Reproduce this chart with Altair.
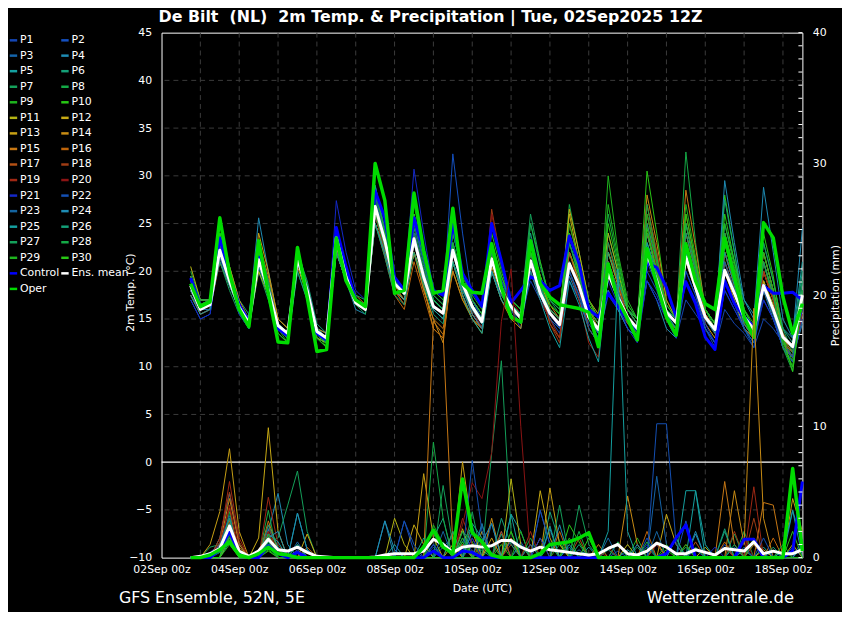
import altair as alt
import pandas as pd

# ---------------- data ----------------
HOURS = list(range(18, 397, 6))  # 6-hourly steps, hours after 02Sep 00z (02Sep 18z ... 18Sep 12z)
MEMBERS = [f"P{i}" for i in range(1, 31)]
SERIES = MEMBERS + ["Control", "Ens. mean", "Oper"]
COLORS = ["#1446b4", "#1450c0", "#1464aa", "#1e8cb4", "#14a0a0", "#14a078", "#14a05a", "#14aa46", "#1eb41e", "#28c814",
          "#b4b414", "#c8aa14", "#c8a014", "#c88c14", "#c87814", "#be640a", "#b45014", "#a03c14", "#a02814", "#8c1414",
          "#1428c8", "#1450b4", "#1464a0", "#1e8cb4", "#14a0a0", "#14a078", "#14a05a", "#14aa46", "#1eb41e", "#28c814",
          "#0000ff", "#ffffff", "#00dc00"]

TEMP = {
    "P1": [17.5, 15.5,16,21.5,18.5, 16,14.5,20.5,17.5, 14.5,13.5,21,18, 14,13.5,24,20, 17,16.5,27,23, 19,18,24,20, 17,16,23,19, 16,14,20,17.5, 16,15,19,17, 15,13.5,19,17, 14.5,13,17.5,16, 14.5,13.5,19,17.5, 15,13,17,15.5, 14,12,16,14.5, 13.5,12,15,14, 12.5,11.5,16],
    "P2": [18, 16,16.5,22,19, 16.5,15,21.5,18, 14,13,21,18, 13.5,12.5,23,19.5, 16.5,16,26,22.5, 18.5,17.5,25,21, 17.5,16.5,32.3,24, 17,15,22,18.5, 16,14,20,17, 15,14,21,18, 15,13,18,16, 14,13,20,18, 15,13,19,17, 14,12.5,18,16, 14,13,17,15, 12,11,15],
    "P3": [17, 15,15.5,23,19.5, 16,14,22,18.5, 14,13,22,18.5, 13,12.5,24,20, 17,16,29,24.5, 19,18,26,21, 16,15,22,18, 15.5,14,21,18, 16,14.5,21,17.5, 15,14,21,18.5, 15.5,14,22,19, 16,15,24,20, 16,15,23,19, 15,14,21,18, 14.5,13,19,16, 12,11,16],
    "P4": [17.5, 16,16,22.5,19.5, 16,15,25.6,20, 15,14,21.5,18.5, 14,13,22.5,19, 16,15.5,26,22, 18,17,22,19, 16,15,21,18, 16,14.5,20,17, 15.5,14.5,20,17.5, 15,14,19.5,17, 14,12.5,18,16, 14,13,19,17, 14,13,21,18, 14,12.5,19,17, 14,12.5,18,15, 12,11,14.5],
    "P5": [18, 16.5,17,21,18.5, 16.5,15,22,18.5, 15,14,21,18, 14,13.5,22,19, 17,16.5,25,22, 19,18,23,19.5, 17,16,23,19, 17,15.5,22,19, 17,16,22,18, 16,15,22,19, 15,14,21,18, 16,15,23,20, 16,15,22,19, 15,14,25,21, 17,15.5,22,18, 14,13,21],
    "P6": [19, 17,17,24,20.5, 17,15.5,22,19, 15,14,22,19, 14.5,13.5,23,19.5, 17,16,27,23.5, 19.5,18,23,19.5, 16.5,15.5,21,18, 16,14.5,21,18, 16.5,15.5,24,19.5, 17,16,23,20, 16,14.5,24,20, 16,15,26,21, 16.5,15,25,20, 16,14.5,23,19, 15,13.5,20,17, 13.5,12,19],
    "P7": [19.5, 16.5,16.5,21,18, 15.5,14,20,17, 13.5,12.5,20,17, 13,12.5,22,19, 16.5,15.5,25,22, 18,17,22,18.5, 16,15,22,18.5, 16,14.5,22,18.5, 17,16,26,21, 17,15.5,22,19, 15.5,14,21,18, 15,14,23,19.5, 15,14,22,19, 15.5,14,22,19, 15,13,19,16, 12,10.5,17],
    "P8": [20, 17,17,22,19, 16.5,15,21,18, 14.5,13.5,21.5,18, 13.5,12.5,23.5,19.5, 17,16,27.5,23.5, 19,17.5,24,20, 17,16,22,19, 16.5,15,21,18, 16,15,21,18, 16,15,27,22, 17,15,21,18, 15,14,22,19, 16,14.5,32.5,23, 16,14,24,19.5, 15,13,21,17, 13,11,18],
    "P9": [19, 16.5,17,25.5,20.5, 16.5,14.5,22,18.5, 14,13,22,18, 13,12,23,19.5, 16.5,16,28,24, 19,18,26,21, 17,16,23,19.5, 17,15,22,18.5, 16,15,22,18.5, 16,15,21,18.5, 15,14,30,22, 17,15,25,20.5, 16,14.5,23,19.5, 15,14,24,20, 15,13,21,17, 12,10,17],
    "P10": [18.5, 16,16.5,23,19.5, 16,14,21,18, 13.5,12.5,21.5,18, 13.5,12.5,23,19.5, 16.5,16,27,23, 18.5,17.5,24,20, 17,16,22,19, 17,15.5,24,20, 17,16,25,21, 17,16,22,19.5, 16,14.5,22,19, 16,14.5,30.5,24, 17,15,24,20, 16,14.5,28,22, 16,14,22,18, 13,10.5,18],
    "P11": [20.5, 17,17,21.5,19, 16,14.5,20,17.5, 14,13,20.5,17.5, 13,12.5,22,19, 16.5,16,25,22, 18,17,22,19, 16,15,20,17, 15,13.5,21,18, 16,15,23,19.5, 16,15,26,21, 17,15.5,24,20, 16,14.5,22,19, 15,14,23,19.5, 15.5,14,20,17.5, 15,14,19,16.5, 13,12,17],
    "P12": [19.5, 16,16.5,22,19, 16,14.5,22.5,19, 15,14,21,18, 14,13,22.5,19.5, 16.5,16,26,22.5, 18,17,23,19.5, 16,15,22,18.5, 15.5,14,20.5,17.5, 16,15,22,19, 16,15,26.5,22, 17,15,21,18, 15,14,24,20, 16,14.5,23,19, 15,13.5,22,18.5, 14.5,13,18,15.5, 12.5,11,16],
    "P13": [18, 16,16,23,20, 16.5,15,24,20, 15,14,21,18, 13.5,12.5,23,19.5, 17,16,26,22, 18,17,22,18.5, 14,13,21,17.5, 15,14,20,17, 15,14,21,18, 15.5,14.5,24,20, 16,14,22,18.5, 15,14,24,20, 15,14,21,18, 14.5,13,20,17, 14,13,19,16, 12,11,16],
    "P14": [18.5, 16,16.5,23,20.5, 17,15,23,19.5, 15,14,21,18, 14,13.5,24,20, 17.5,16.5,25,22, 18.5,17,22,18, 15,12.5,21,17.5, 15,14,22,18.5, 16,15,22,19, 16.5,15,22,19, 15,14,22,19, 15,14,28,23, 17,15,25,20.5, 15.5,14,21,18, 15,13.5,20,17, 13,11.5,17],
    "P15": [17.5, 15.5,16,22.5,19.5, 16.5,14.5,21.5,18.5, 14.5,13.5,22,18.5, 13.5,13,24,20.5, 17,16,26,22.5, 18,16.5,22,18, 15,14,20,17, 15.5,14,22,18.5, 16,15,23,19.5, 16,15,25,21, 16,14.5,21,18, 15,14,26,21.5, 16,14.5,28.5,22.5, 16,14.5,24,20, 15,13.5,22,18, 13.5,12,18],
    "P16": [19, 16.5,16.5,22,19.5, 16.5,15,22,19, 14.5,13.5,21,18, 13.5,13,22,19, 16.5,16,25,21.5, 17.5,16,21,17.5, 14,13,21,17.5, 15,14,21.5,18, 15.5,14.5,21,18, 15.5,14.5,21,18.5, 15,13.5,23,19, 16,14.5,27,22, 16,14.5,26,21, 15.5,14,23,19, 15,13.5,20,17, 12.5,11,15],
    "P17": [18, 16,16,21,18.5, 16,14.5,21,18, 14,13,22,18.5, 14,13,22,19, 16.5,16,26,22, 18,16.5,23,19, 16,15,22,18.5, 15.5,14,21,18, 15.5,14.5,22,18.5, 14.5,13,22,18.5, 14,12.5,20,17, 14.5,13.5,24,20, 15,13.5,24,20, 15,13.5,22,18.5, 14.5,13,20,17, 12.5,11.5,16.5],
    "P18": [18.5, 16,16.5,22,19, 16,14.5,21,18, 14,13,21.5,18, 13.5,13,23,19, 16.5,16,26,22, 18.5,17.5,24,20, 16.5,15.5,22,18.5, 16,14.5,26.5,21, 16,15,21,18, 14.5,12.5,21,18, 14,12.5,23,19, 15,14,27,22, 16,14.5,24,20, 15,13.5,22,18.5, 14.5,13,21,17.5, 13,12,17],
    "P19": [17.5, 15.5,16,22,19, 16,14.5,22,18.5, 14.5,13.5,21,18, 13.5,13,23,19.5, 17,16.5,27,23, 18.5,17.5,23,19.5, 16.5,15.5,22,18.5, 16,14.5,22,18.5, 16,15,22,18.5, 15,13,20,17, 12.5,11,21,18, 15,13.5,25,20.5, 15.5,13.5,22,18.5, 15,13.5,21,18, 14.5,13,20,17, 12.5,11,15.5],
    "P20": [18, 16,16.5,22.5,19.5, 16.5,15,21.5,18.5, 14.5,13.5,21,18, 14,13,23,19.5, 17,16,26,22.5, 18.5,17.5,23.5,19.5, 16.5,15.5,22,18.5, 16,14,26,21, 17,15.5,20,17, 15,14,21,18, 15,13.5,21,18, 15,14,26,21, 16,14.5,23,19, 15,13.5,22,18.5, 14.5,13,21,17.5, 13,12,16],
    "P21": [17, 15,15.5,22,19, 15.5,14,21,18, 14,13,21,18, 13.5,12.5,27.4,22, 18,17,28,24, 19.5,18,30.7,24, 18,17,24,20, 17,15,23,19, 17,16,21,18, 15.5,14,20,17.5, 15,13.5,19,16.5, 14,12.5,19,17, 15,13,20,17.5, 14.5,12.5,18,16, 14,12.5,17,15, 12,11,16],
    "P22": [18.5, 16,16,21.5,18.5, 16,14.5,21,18, 14,13,21,18, 13.5,13,24,20, 17,16.5,27,23, 19,17.5,25,21, 17,16,24,20, 17,15.5,22,19, 16.5,15.5,21,18.5, 16,15,20,17.5, 15,13.5,20,17.5, 15,13.5,21,18.5, 15,13.5,20,17.5, 14,12.5,19,16.5, 14,12,18,15.5, 12,10.5,15],
    "P23": [18, 16,16,22,19, 16,14.5,23,19, 14.5,13.5,21.5,18, 13.5,12.5,23,19.5, 17,16,28,23.5, 19,18,24,20, 16.5,15.5,21,18, 16,14.5,20,17.5, 16,15,22,18.5, 15,14,20,17.5, 14,12.5,21,18, 15,14,22,19, 15.5,14,23,19.5, 15,13.5,21,18, 14,12.5,18,15.5, 12.5,11,17],
    "P24": [18, 16,16.5,22,19, 16,14.5,22,18.5, 14.5,13.5,21,18, 14,13,22,19, 16.5,16,25,22, 18,17,23,19.5, 16,15,22,18.5, 15.5,14,21,18, 16,15,21,18, 15.5,14.5,21,18.5, 15,13.5,20,17.5, 15,14,22,19, 16,14.5,22,19, 15,14,29.5,23, 17,15,28.8,22, 15,13,24.5],
    "P25": [17.5, 15.5,16,23,19.5, 16,14.5,22,18.5, 14.5,13.5,21.5,18, 14,13,23,19.5, 17,16.5,29,24, 19,17.5,23,19, 16,15,21,17.5, 15,13.5,20,17, 15.5,14.5,20,17, 14,12,19,16.5, 13,10.5,20,17, 15,14,23,19.5, 15.5,14,22,18.5, 15,13.5,22,18.5, 14.5,13,21,17.5, 13,12,18],
    "P26": [18.5, 16.5,16.5,21,18.5, 16,14.5,20.5,17.5, 14,13,20,17, 13.5,12.5,22,19, 16.5,16,25,21.5, 17.5,16.5,22,18.5, 15.5,14.5,21,18, 16,14.5,23,19.5, 16.5,15.5,22,18.5, 15.5,14.5,23,19.5, 15.5,14,22,19, 16,14.5,25,21, 16,15,24,20, 16,14.5,27.5,22, 16,14,23,19, 14,12.5,20],
    "P27": [19.5, 17,17,22.5,19.5, 16.5,15,22,18.5, 14.5,13.5,22,18.5, 14,13,23.5,20, 17.5,17,27,23, 19,18,24.5,20.5, 17,16,22.5,19, 16.5,15,21,18, 16.5,15.5,25,20.5, 17,16,24,20, 16.5,15,23,19.5, 16,14.5,24,20, 16,14.5,25,20.5, 16,14.5,24,20, 15.5,14,23,19, 14,11.5,19],
    "P28": [19, 16.5,16.5,23,19.5, 16,14.5,22.5,19, 14,13,22,18.5, 13.5,12.5,23,19.5, 16.5,16,26,22.5, 18.5,17.5,23.5,19.5, 17,16,23,19, 16.5,15,22,18.5, 16.5,15.5,22,18.5, 16,15,23,19.5, 16,14.5,26,21, 16.5,15,27,21.5, 16,14.5,25,20.5, 16,14.5,23,19, 15,13.5,21,17.5, 12,9.5,18],
    "P29": [19, 16.5,17,24,20, 16.5,15,21.5,18, 14,12.5,21.5,18, 13,12,23.5,20, 17,16.5,28.5,24, 19.5,18,27,22, 18,17,24,20, 17.5,16,25,20.5, 17,16,23,19.5, 16.5,15.5,25,21, 17,15,27,21.5, 16.5,15,26,21, 16,14.5,27,21.5, 16,14.5,25,20.5, 16,14.5,22,18, 12.5,10,17],
    "P30": [18.5, 16,16.5,24,20, 16.5,14.5,22,18.5, 14,13,22.5,18.5, 13.5,12,24,20, 17,16.5,27,23, 19,18,26,21.5, 17.5,16.5,24,20, 17,15.5,23,19.5, 17,16,22,19, 16.5,15.5,24,20, 16.5,15,25,20.5, 16,15,24.5,20, 16.5,15,26,21, 16,14.5,26,21, 16,14,24,19.5, 13,9.5,17],
    "Control": [19.3, 16.3,16.5,23.5,19.5, 16.5,14.8,21.5,18, 14,13.2,21.5,18, 13.5,12.8,24.6,20.5, 17,16.3,28.4,25.6, 19.4,18,25.6,22.2, 18,17.5,25,19.8, 18,16.3,25,21.1, 16.7,18,19.4,19, 18,18.5,23.7,20.8, 16,15.2,17.7,16.3, 15,13.9,20.9,20.4, 18.3,15.2,18.9,16.6, 13.1,11.8,19,16.6, 15.2,14.2,18.5,17.7, 17.7,17.8,17],
    "Ens. mean": [18.5, 16,16.5,22.2,19, 16.2,14.6,21.2,18, 14.3,13.5,21.3,18, 13.7,13,23.5,19.4, 16.7,16,26.8,23.2, 18.7,17.7,23.4,19.4, 16.3,15.6,22.2,18.7, 16.3,14.7,21.3,18, 16.3,15.1,21.1,17.7, 15.6,14.4,20.8,18.5, 15.2,13.9,19.8,17.3, 15.2,14,21.8,19, 15.7,14.6,21.5,18.3, 15.2,13.9,20.1,17.7, 15.2,13.9,18.5,16, 13.1,12.1,17.5],
    "Oper": [18.7, 16.3,16.8,25.6,19.8, 16,14.2,23.2,17.7, 12.6,12.5,22.5,17.3, 11.6,11.8,23.5,19, 17,16.3,31.3,27.4, 17.7,18,28.2,22.2, 17.7,18,26.6,18.7, 17.8,17.7,22.9,18.3, 15.2,14.7,23.2,18.7, 17.3,16.5,16.3,16.1, 15.7,12.1,20.8,17, 15,12.8,22.4,18.7, 15.2,13.3,22.9,19, 16.6,16,23.5,19.4, 15.2,13.1,25.1,23.5, 17.3,13.5,16.6],
}

# 6-hourly precipitation (mm); steps not listed are dry (0 mm)
PRECIP_WET_STEPS = {
    "P1": {3: 0.5, 4: 1.8, 5: 0.3, 8: 1.0, 9: 0.4, 11: 0.6, 25: 0.8, 28: 1.5, 29: 0.5, 32: 2.0, 36: 3.6, 37: 1.0, 44: 0.5, 48: 1.0, 52: 0.6, 58: 1.2, 62: 0.8},
    "P2": {2: 0.4, 3: 1.0, 4: 3.0, 5: 0.5, 8: 2.2, 9: 0.8, 12: 0.5, 22: 2.8, 23: 0.5, 29: 2.0, 30: 1.0, 34: 1.2, 39: 0.8, 47: 1.5, 51: 2.8, 55: 1.0, 63: 1.4},
    "P3": {3: 0.8, 4: 2.4, 8: 1.2, 11: 1.0, 26: 0.8, 27: 1.6, 31: 2.6, 33: 1.3, 40: 0.6, 48: 6.2, 49: 1.0, 56: 0.8, 60: 0.5},
    "P4": {3: 1.5, 4: 4.9, 5: 1.0, 8: 2.0, 9: 4.9, 10: 1.0, 12: 0.6, 20: 2.8, 25: 1.0, 30: 2.6, 33: 1.5, 37: 2.2, 44: 1.2, 52: 1.8, 57: 0.6, 62: 3.6},
    "P5": {4: 1.2, 8: 0.8, 11: 3.4, 12: 0.6, 21: 1.0, 28: 1.2, 29: 2.4, 33: 3.3, 34: 2.0, 41: 0.8, 45: 0.6, 52: 5.1, 53: 1.0, 59: 0.8},
    "P6": {3: 0.6, 4: 2.0, 7: 0.4, 8: 1.5, 25: 1.5, 26: 3.0, 30: 0.6, 32: 1.8, 37: 3.5, 38: 1.2, 43: 0.6, 50: 1.5, 55: 2.0, 63: 0.8},
    "P7": {2: 0.8, 3: 1.0, 4: 2.5, 8: 1.2, 9: 1.5, 10: 4.0, 11: 6.6, 12: 2.0, 26: 5.5, 27: 1.0, 31: 8.0, 32: 15.0, 33: 2.0, 40: 4.0, 41: 1.0, 47: 0.8, 56: 1.8},
    "P8": {4: 3.5, 8: 3.6, 25: 8.8, 26: 3.0, 29: 1.0, 35: 1.5, 44: 1.2, 51: 0.8, 57: 2.0},
    "P9": {3: 0.4, 4: 1.6, 8: 0.6, 24: 1.0, 28: 2.0, 29: 1.2, 34: 2.0, 38: 1.0, 46: 1.5, 55: 0.8, 61: 0.6},
    "P10": {4: 1.0, 8: 0.5, 28: 1.5, 32: 1.0, 39: 2.5, 40: 1.2, 49: 0.6, 58: 1.0},
    "P11": {4: 1.5, 7: 0.6, 8: 1.8, 21: 3.0, 22: 1.0, 28: 2.2, 33: 6.0, 34: 1.0, 36: 1.5, 45: 1.0, 53: 0.8, 62: 1.0},
    "P12": {3: 0.8, 4: 2.2, 7: 1.5, 8: 9.9, 9: 2.0, 12: 1.8, 23: 2.5, 24: 1.0, 27: 1.0, 30: 2.0, 36: 5.1, 37: 1.5, 49: 3.3, 50: 1.0, 59: 0.6},
    "P13": {2: 1.0, 3: 3.5, 4: 8.3, 5: 2.0, 8: 1.4, 24: 6.4, 25: 1.5, 28: 7.3, 29: 2.0, 31: 1.5, 37: 5.3, 38: 1.0, 48: 1.2, 62: 4.5, 63: 2.0},
    "P14": {3: 1.0, 4: 4.5, 5: 1.0, 8: 1.6, 28: 1.0, 31: 3.0, 35: 1.0, 45: 4.7, 46: 1.0, 56: 5.1, 57: 1.0, 58: 19.0, 59: 3.0},
    "P15": {3: 0.8, 4: 3.0, 8: 2.8, 9: 0.6, 25: 18.0, 26: 17.0, 27: 1.0, 33: 1.5, 42: 1.0, 55: 5.8, 56: 1.0, 59: 4.2, 60: 4.0},
    "P16": {4: 2.8, 5: 0.8, 8: 2.0, 12: 0.8, 27: 2.0, 30: 1.2, 38: 2.0, 47: 2.0, 55: 1.2, 60: 1.5},
    "P17": {3: 1.0, 4: 3.8, 8: 1.5, 11: 0.5, 28: 1.0, 32: 2.0, 40: 1.5, 52: 1.2, 58: 1.0},
    "P18": {3: 1.5, 4: 5.0, 5: 1.2, 8: 2.5, 29: 1.5, 33: 1.0, 43: 0.8, 56: 2.0, 58: 3.0},
    "P19": {3: 1.2, 4: 5.8, 5: 1.5, 8: 4.6, 9: 1.0, 28: 3.0, 29: 1.0, 35: 2.0, 48: 1.0, 55: 0.8, 58: 5.4},
    "P20": {3: 0.8, 4: 4.0, 5: 0.6, 8: 2.0, 28: 2.5, 29: 5.7, 30: 4.5, 31: 8.0, 32: 18.0, 33: 22.0, 34: 10.0, 42: 0.5, 51: 1.0, 57: 1.5},
    "P21": {3: 0.6, 4: 2.5, 8: 1.0, 25: 1.0, 29: 1.5, 36: 1.5, 47: 1.0, 54: 0.8},
    "P22": {4: 2.0, 8: 1.0, 22: 2.8, 23: 1.0, 29: 7.4, 30: 2.0, 36: 3.6, 37: 1.0, 48: 10.2, 49: 10.2, 50: 1.0, 59: 1.5},
    "P23": {3: 1.0, 4: 3.2, 8: 1.4, 11: 1.2, 26: 2.0, 30: 2.5, 35: 1.0, 43: 1.5, 48: 2.0, 57: 0.8},
    "P24": {3: 0.5, 4: 2.2, 8: 1.5, 9: 2.0, 11: 3.4, 12: 0.6, 20: 2.8, 21: 0.6, 29: 2.0, 30: 1.2, 31: 2.6, 38: 2.5, 46: 1.0, 52: 2.0, 63: 1.0},
    "P25": {4: 2.6, 8: 1.8, 9: 1.2, 29: 2.6, 30: 1.5, 33: 3.3, 37: 2.4, 39: 1.0, 43: 2.0, 44: 22.0, 45: 2.0, 51: 5.1, 52: 5.1, 61: 0.5, 62: 3.6, 63: 1.0},
    "P26": {3: 0.8, 4: 3.0, 8: 2.5, 9: 0.8, 24: 1.5, 27: 2.0, 32: 3.0, 33: 1.0, 40: 1.0, 50: 1.5, 55: 2.2, 60: 0.8},
    "P27": {4: 1.8, 8: 1.2, 11: 1.0, 26: 1.2, 29: 3.5, 34: 1.0, 38: 4.0, 46: 0.8, 56: 1.0},
    "P28": {3: 0.4, 4: 1.5, 8: 1.8, 28: 2.0, 31: 1.0, 37: 1.0, 40: 2.0, 47: 1.2, 52: 0.8, 61: 1.0},
    "P29": {4: 2.0, 8: 1.0, 25: 2.5, 26: 1.0, 30: 1.0, 39: 1.5, 49: 1.0, 58: 1.5},
    "P30": {4: 2.2, 8: 0.8, 9: 0.6, 28: 1.2, 33: 2.0, 41: 1.5, 51: 1.0, 62: 2.0},
    "Control": {3: 0.6, 4: 2.0, 5: 0.3, 8: 0.9, 9: 0.3, 11: 0.4, 25: 0.5, 28: 0.5, 29: 0.4, 49: 0.3, 50: 1.5, 51: 2.5, 57: 1.4, 58: 1.4, 62: 0.5, 63: 5.8},
    "Oper": {2: 0.2, 3: 0.6, 4: 1.2, 5: 0.2, 7: 0.3, 8: 0.8, 9: 0.3, 10: 0.2, 24: 0.8, 25: 2.1, 26: 0.8, 27: 0.3, 28: 6.0, 29: 1.9, 30: 1.2, 31: 0.2, 36: 0.3, 37: 1.0, 38: 1.1, 39: 1.2, 40: 1.5, 41: 1.9, 62: 6.8, 63: 0.5},
}
MEAN_PRECIP = [0, 0.1,0.3,0.7,2.4, 0.5,0.1,0.5,1.4, 0.6,0.5,0.8,0.4, 0.1,0.05,0,0, 0,0,0.05,0.2, 0.3,0.3,0.3,0.5,
               1.4,1.0,0.4,0.8, 0.9,0.8,0.9,1.3, 1.3,0.8,0.5,0.8, 0.6,0.5,0.4,0.3, 0.2,0.3,0.7,1.0, 0.3,0.2,0.5,1.1,
               0.8,0.3,0.3,0.6, 0.4,0.2,0.7,0.6, 0.5,1.2,0.3,0.5, 0.3,0.3,0.6]

XLABELS = ["02Sep 00z", "04Sep 00z", "06Sep 00z", "08Sep 00z", "10Sep 00z",
           "12Sep 00z", "14Sep 00z", "16Sep 00z", "18Sep 00z"]
XLABEL_HOURS = [0, 48, 96, 144, 192, 240, 288, 336, 384]
DAY_GRID = [24, 48, 72, 96, 120, 144, 168, 192, 216, 240, 264, 288, 312, 336, 360, 384]
TEMP_TICKS = [-10, -5, 0, 5, 10, 15, 20, 25, 30, 35, 40, 45]
TEMP_GRID = [-5, 5, 10, 15, 20, 25, 30, 35, 40]
PRECIP_LABELS = [0, 10, 20, 30, 40]
PRECIP_MINOR = list(range(0, 41))

TITLE = "De Bilt\u00a0 (NL)\u00a0 2m Temp. & Precipitation | Tue, 02Sep2025 12Z"
FOOT_LEFT = "GFS Ensemble, 52N, 5E"
FOOT_RIGHT = "Wetterzentrale.de"

# ---------------- table ----------------
rows = []
for s in SERIES:
    if s == "Ens. mean":
        pr = MEAN_PRECIP
    else:
        wet = PRECIP_WET_STEPS[s]
        pr = [wet.get(i, 0.0) for i in range(len(HOURS))]
    t = TEMP[s]
    assert len(t) == len(HOURS), (s, len(t))
    for h, tv, pv in zip(HOURS, t, pr):
        rows.append({"h": h, "series": s, "temp": tv, "precip": pv})
df = pd.DataFrame(rows)

# ---------------- chart ----------------
W, H = 647, 530
FONT = "DejaVu Sans"
GRID_COLOR = "#3c3c3c"

xlab_js = "[" + ",".join(f"'{s}'" for s in XLABELS) + "]"
XAXIS = alt.Axis(values=XLABEL_HOURS, labelExpr=f"{xlab_js}[round(datum.value / 48)]",
                 grid=False, ticks=False, domain=False, labelFlush=False, labelOverlap=False,
                 labelPadding=6, title="Date (UTC)", titlePadding=8)
XSCALE = alt.Scale(domain=[0, 396], nice=False, zero=False)
TAXIS = alt.Axis(values=TEMP_TICKS, grid=False, ticks=False, domain=False, orient="left",
                 labelPadding=10, title="2m Temp. (°C)", titleX=-31, titleY=262, titleAngle=270,
                 titleBaseline="middle", titleAlign="center")
TSCALE = alt.Scale(domain=[-10, 45], nice=False, zero=False)
PAXIS = alt.Axis(values=PRECIP_LABELS, grid=False, ticks=False, domain=False, orient="right",
                 labelPadding=10, title="Precipitation (mm)", titleAngle=270, titleX=33, titleY=265,
                 titleBaseline="middle", titleAlign="center")
PSCALE = alt.Scale(domain=[0, 40], nice=False, zero=False)

LEGEND = alt.Legend(orient="none", legendX=-155, legendY=2, columns=2, direction="horizontal",
                    title=None, symbolLimit=0,
                    symbolType="stroke", symbolStrokeWidth=2.5, symbolSize=56,
                    labelColor="white", labelFont=FONT, labelFontSize=11,
                    rowPadding=3.7, columnPadding=-8, labelOffset=1, padding=0)
COLOR = alt.Color("series:N", scale=alt.Scale(domain=SERIES, range=COLORS), legend=LEGEND)

X = alt.X("h:Q", scale=XSCALE, axis=XAXIS)
base = alt.Chart(df)


def subset(names):
    return base.transform_filter(alt.FieldOneOfPredicate(field="series", oneOf=names))


YT = alt.Y("temp:Q", scale=TSCALE, axis=TAXIS)
YP = alt.Y("precip:Q", scale=PSCALE, axis=PAXIS)

hgrid = alt.Chart(pd.DataFrame({"temp": TEMP_GRID})).mark_rule(
    color=GRID_COLOR, strokeDash=[5, 4], strokeWidth=1).encode(y=YT)
vgrid = alt.Chart(pd.DataFrame({"h": DAY_GRID})).mark_rule(
    color=GRID_COLOR, strokeDash=[5, 4], strokeWidth=1).encode(x=X)
zero = alt.Chart(pd.DataFrame({"temp": [0]})).mark_rule(color="white", strokeWidth=1.2).encode(y=YT)


def lines(names, y, width):
    return subset(names).mark_line(strokeWidth=width, strokeJoin="round").encode(
        x=X, y=y, color=COLOR, detail="series:N")


temp_layer = alt.layer(
    hgrid, vgrid, zero,
    lines(MEMBERS, YT, 1),
    lines(["Control"], YT, 3),
    lines(["Ens. mean"], YT, 3),
    lines(["Oper"], YT, 3.5),
)

pticks = alt.Chart(pd.DataFrame({"precip": PRECIP_MINOR})).mark_rule(color="white", strokeWidth=1).encode(
    x=alt.value(W - 4), x2=alt.value(W), y=YP)

precip_layer = alt.layer(
    lines(MEMBERS, YP, 1),
    lines(["Control"], YP, 3),
    lines(["Ens. mean"], YP, 3),
    lines(["Oper"], YP, 3.5),
    pticks,
)

title_txt = alt.Chart(pd.DataFrame({"label": [TITLE]})).mark_text(
    align="left", baseline="middle", color="white", font=FONT, fontSize=16, fontWeight="bold").encode(
    x=alt.value(-3), y=alt.value(-16), text="label:N")
foot_l = alt.Chart(pd.DataFrame({"label": [FOOT_LEFT]})).mark_text(
    align="left", baseline="middle", color="white", font=FONT, fontSize=16).encode(
    x=alt.value(-43), y=alt.value(571), text="label:N")
foot_r = alt.Chart(pd.DataFrame({"label": [FOOT_RIGHT]})).mark_text(
    align="left", baseline="middle", color="white", font=FONT, fontSize=16.5).encode(
    x=alt.value(490), y=alt.value(571), text="label:N")

chart = alt.layer(temp_layer, precip_layer, title_txt, foot_l, foot_r).resolve_scale(
    y="independent"
).properties(
    width=W, height=H,
    padding={"left": 155, "top": 22, "right": 40, "bottom": 52},
    autosize=alt.AutoSizeParams(type="none"),
).configure(
    background="black", font=FONT
).configure_view(
    stroke="white", strokeWidth=1, fill="black"
).configure_axis(
    labelColor="white", titleColor="white", labelFont=FONT, titleFont=FONT,
    labelFontSize=11, titleFontSize=11, titleFontWeight="normal"
)

chart.save("out.html", embed_options={"renderer": "svg", "actions": False})
